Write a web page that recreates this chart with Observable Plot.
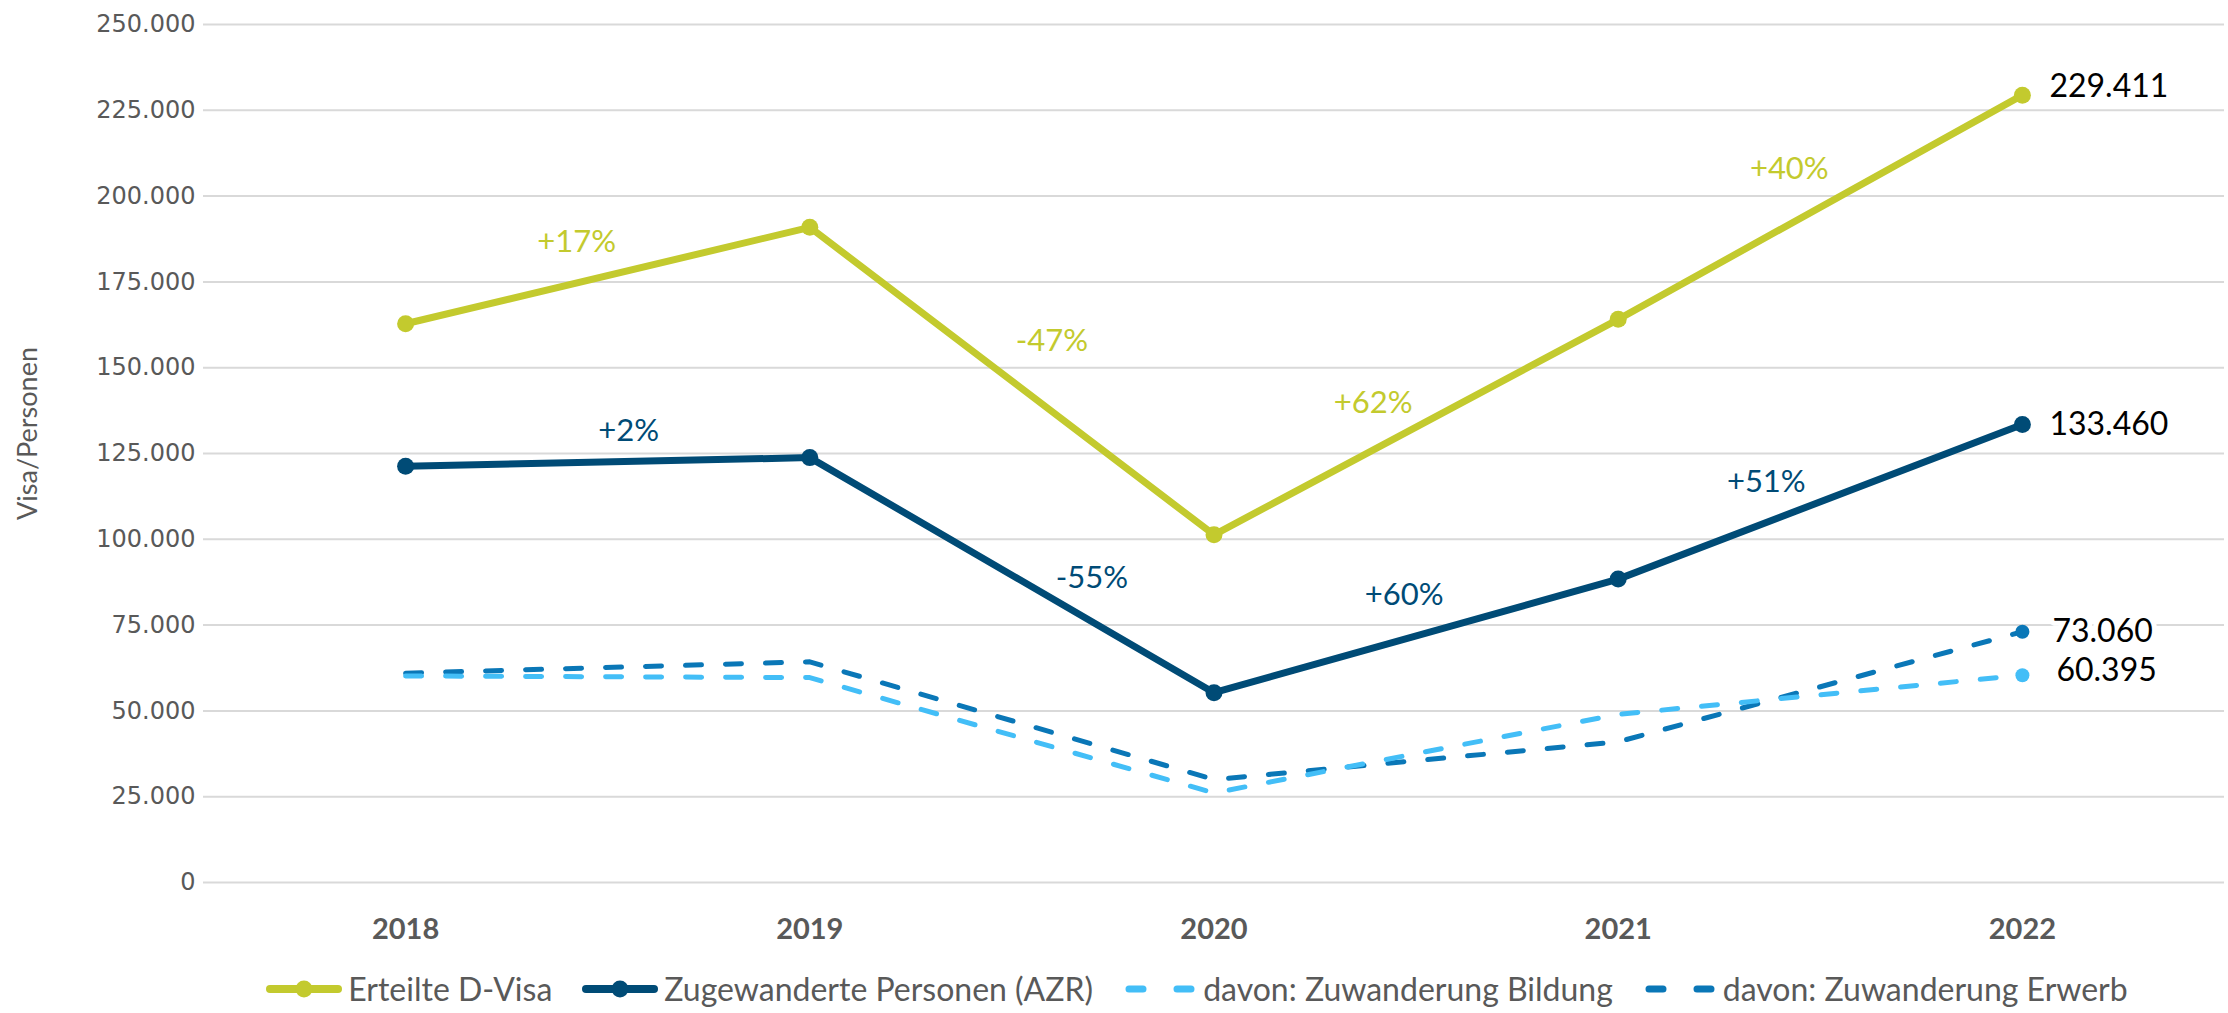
<!DOCTYPE html>
<html><head><meta charset="utf-8">
<script src="https://cdn.jsdelivr.net/npm/d3@7"></script>
<script src="https://cdn.jsdelivr.net/npm/@observablehq/plot@0.6"></script>
<style>
html,body{margin:0;padding:0;background:#fff;}
#chart{width:2228px;height:960px;}
#legend{display:flex;justify-content:center;align-items:center;height:53px;padding-left:166px;padding-top:4px;box-sizing:border-box;font-family:Lato,"Noto Sans",sans-serif;font-size:32px;color:#595959;white-space:nowrap;}
.item{display:flex;align-items:center;margin:0 15px;}
.item svg{margin-right:6px;}
</style></head><body><div id="chart"></div><div id="legend"></div>
<script>
// ---- data ----
const years = [2018, 2019, 2020, 2021, 2022];
const visa = [162800, 190900, 101300, 164100, 229411];
const azr = [121300, 123800, 55300, 88400, 133460];
const bildung = [60200, 59700, 26100, 49000, 60395];
const erwerb = [61000, 64300, 30000, 41000, 73060];
const visaChange = ["+17%", "-47%", "+62%", "+40%"];
const azrChange = ["+2%", "-55%", "+60%", "+51%"];
const yTicks = [0, 25000, 50000, 75000, 100000, 125000, 150000, 175000, 200000, 225000, 250000];
const seriesNames = ["Erteilte D-Visa", "Zugewanderte Personen (AZR)", "davon: Zuwanderung Bildung", "davon: Zuwanderung Erwerb"];
const yTitle = "Visa/Personen";

// ---- styles ----
const colors = ["#c3ca2e", "#004b76", "#43bef7", "#0a77b7"];
const visaOffsets = [[-31, -33], [40, -40], [-43, -24], [-31, -38]];
const azrOffsets = [[21, -31], [80, 3], [-12, -41], [-54, -20]];
const endDy = [-8, 0, -4, 0];
const endDx = [27, 27, 34, 30];

const de = d3.formatLocale({decimal: ",", thousands: ".", grouping: [3], currency: ["", " €"]});
const fmt = de.format(",");

const series = [visa, azr, bildung, erwerb];
const rows = series.map(vals => years.map((y, i) => ({year: y, v: vals[i]})));

function changeMarks(vals, labels, offsets, color) {
  return labels.map((t, i) => Plot.text([{x: (years[i] + years[i + 1]) / 2, y: (vals[i] + vals[i + 1]) / 2, t}], {
    x: "x", y: "y", text: "t", dx: offsets[i][0], dy: offsets[i][1],
    fill: color, fontSize: 31, fontFamily: "Lato", textAnchor: "middle"
  }));
}

const endMarks = series.map((vals, k) => Plot.text([{x: years[4], y: vals[4]}], {
  x: "x", y: "y", text: d => fmt(d.y), dx: endDx[k], dy: endDy[k], textAnchor: "start",
  fill: "#000", fontSize: 32, fontFamily: "Lato", stroke: "white", strokeWidth: 10, paintOrder: "stroke"
}));

const chart = Plot.plot({
  width: 2228, height: 960,
  marginTop: 24, marginBottom: 78, marginLeft: 203, marginRight: 4,
  x: {type: "linear", domain: [2017.5, 2022.5]},
  y: {domain: [0, 250000]},
  style: {background: "#fff", overflow: "visible"},
  marks: [
    Plot.gridY(yTicks, {stroke: "#d9d9d9", strokeOpacity: 1, strokeWidth: 2}),
    Plot.axisY(yTicks, {tickSize: 0, tickPadding: 8, tickFormat: fmt, fontSize: 24, fontFamily: "DejaVu Sans", color: "#595959", label: null}),
    Plot.axisX(years, {tickSize: 0, tickPadding: 36, tickFormat: d => String(d), fontSize: 29, fontWeight: "bold", fontFamily: "Lato", color: "#595959", label: null}),
    Plot.text([yTitle], {text: d => d, frameAnchor: "left", textAnchor: "middle", lineAnchor: "middle", rotate: -90, dx: -175, dy: -20, fontSize: 27, fontFamily: "Lato", fill: "#595959"}),
    Plot.line(rows[3], {x: "year", y: "v", stroke: colors[3], strokeWidth: 5, strokeDasharray: "16,24", strokeLinecap: "round"}),
    Plot.line(rows[2], {x: "year", y: "v", stroke: colors[2], strokeWidth: 5, strokeDasharray: "16,24", strokeLinecap: "round"}),
    Plot.dot(rows[2].slice(-1), {x: "year", y: "v", r: 7, fill: colors[2]}),
    Plot.dot(rows[3].slice(-1), {x: "year", y: "v", r: 7, fill: colors[3]}),
    Plot.line(rows[1], {x: "year", y: "v", stroke: colors[1], strokeWidth: 7}),
    Plot.dot(rows[1], {x: "year", y: "v", r: 8.5, fill: colors[1]}),
    Plot.line(rows[0], {x: "year", y: "v", stroke: colors[0], strokeWidth: 7}),
    Plot.dot(rows[0], {x: "year", y: "v", r: 8.5, fill: colors[0]}),
    ...changeMarks(visa, visaChange, visaOffsets, colors[0]),
    ...changeMarks(azr, azrChange, azrOffsets, colors[1]),
    ...endMarks
  ]
});
document.getElementById("chart").appendChild(chart);

// ---- legend ----
const legend = document.getElementById("legend");
seriesNames.forEach((name, k) => {
  const item = document.createElement("div");
  item.className = "item";
  const dashed = k >= 2;
  const sym = dashed
    ? `<svg width="74" height="20"><line x1="6" y1="10" x2="68" y2="10" stroke="${colors[k]}" stroke-width="7" stroke-linecap="round" stroke-dasharray="14,34"/></svg>`
    : `<svg width="76" height="20"><line x1="4" y1="10" x2="72" y2="10" stroke="${colors[k]}" stroke-width="8" stroke-linecap="round"/><circle cx="38" cy="10" r="8.5" fill="${colors[k]}"/></svg>`;
  item.innerHTML = sym + `<span>${name}</span>`;
  legend.appendChild(item);
});
</script>
</body></html>
